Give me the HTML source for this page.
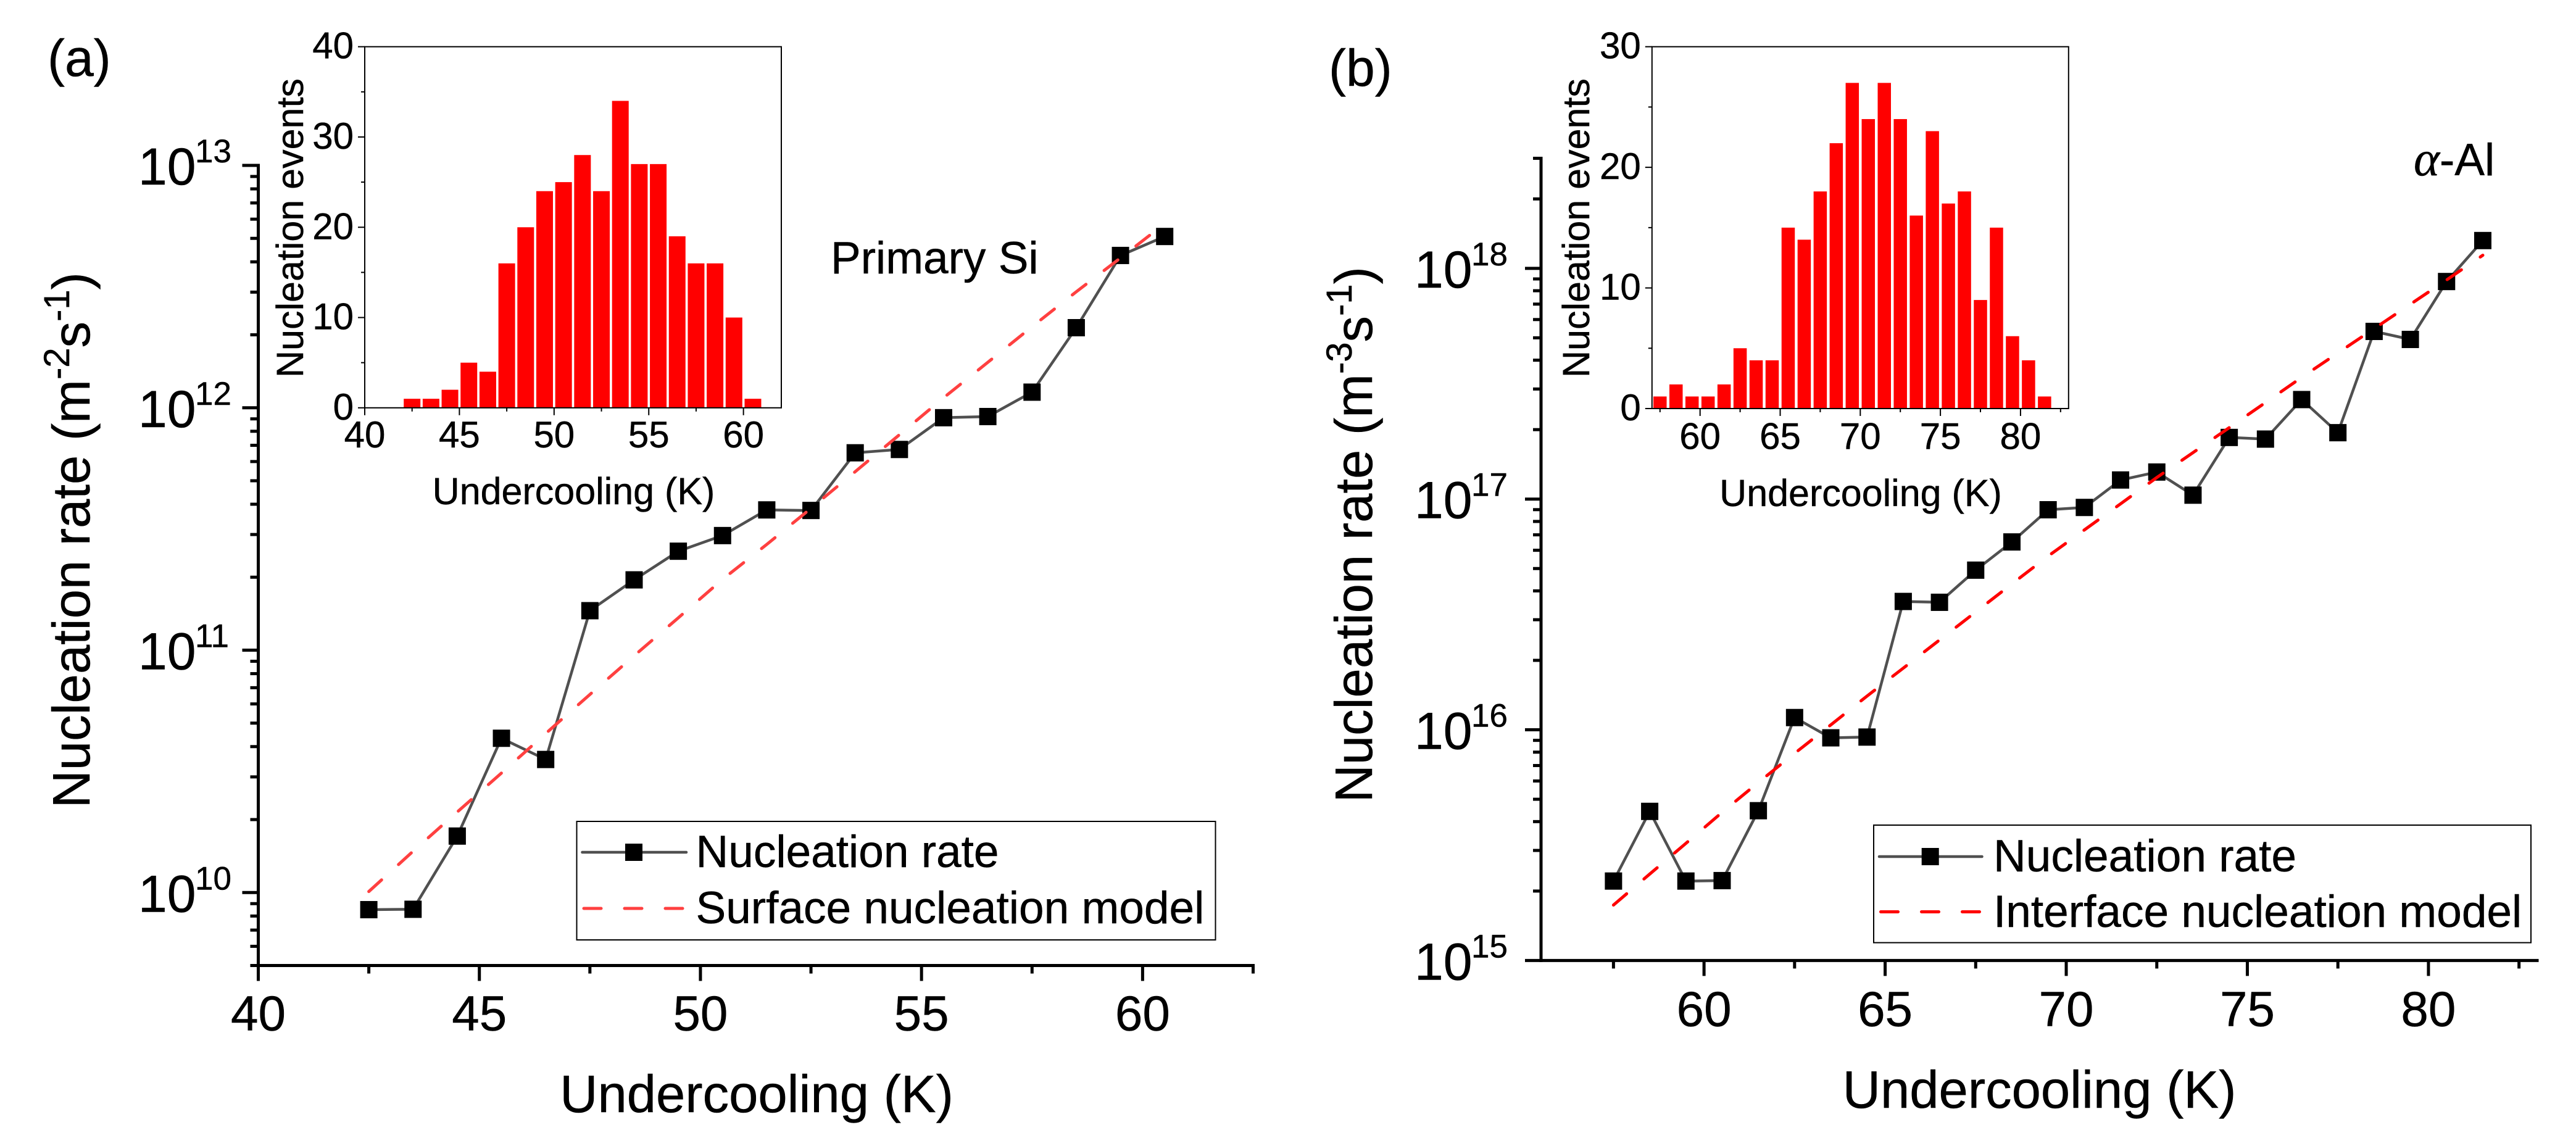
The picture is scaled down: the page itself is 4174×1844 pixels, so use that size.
<!DOCTYPE html>
<html lang="en">
<head>
<meta charset="utf-8">
<title>Nucleation rate versus undercooling</title>
<style>
html,body{margin:0;padding:0;background:#fff;}
svg{display:block;font-family:"Liberation Sans",sans-serif;fill:#000;}
text{white-space:pre;stroke:#000;stroke-width:0.5px;}
</style>
</head>
<body>
<svg id="figure" xmlns="http://www.w3.org/2000/svg" width="4174" height="1844" viewBox="0 0 4174 1844">
  <rect x="0" y="0" width="4174" height="1844" fill="#fff"/>

  <g id="panel-a">
    <text x="77" y="123" font-size="84">(a)</text>
    <text x="1226" y="1802" font-size="85" text-anchor="middle">Undercooling (K)</text>
    <text transform="translate(145,1309.5) rotate(-90)" font-size="85">Nucleation rate (m<tspan font-size="58" dy="-33">-2</tspan><tspan dy="33">s</tspan><tspan font-size="58" dy="-33">-1</tspan><tspan dy="33">)</tspan></text>
    <text x="1346" y="443" font-size="73">Primary Si</text>
    <text x="929.5" y="817" font-size="61" text-anchor="middle">Undercooling (K)</text>
    <text transform="translate(491,612) rotate(-90)" font-size="61">Nucleation events</text>
    <g id="legend-a">
      <rect x="934.5" y="1331" width="1035" height="192" fill="#fff" stroke="#000" stroke-width="2"/>
      <line x1="943.5" y1="1381" x2="1112" y2="1381" stroke="#505050" stroke-width="4.5" stroke-linecap="round"/>
      <rect x="1013" y="1367" width="28" height="28" fill="#000"/>
      <line x1="946" y1="1472" x2="1110" y2="1472" stroke="#ff4040" stroke-width="5" stroke-linecap="round" stroke-dasharray="28 38"/>
      <text x="1127.5" y="1405" font-size="73">Nucleation rate</text>
      <text x="1127.5" y="1496" font-size="73">Surface nucleation model</text>
    </g>
  </g>

  <g id="panel-b">
    <text x="2153" y="139" font-size="84">(b)</text>
    <text x="3304.5" y="1795" font-size="85" text-anchor="middle">Undercooling (K)</text>
    <text transform="translate(2222.8,1300.5) rotate(-90)" font-size="85">Nucleation rate (m<tspan font-size="58" dy="-33">-3</tspan><tspan dy="33">s</tspan><tspan font-size="58" dy="-33">-1</tspan><tspan dy="33">)</tspan></text>
    <text x="3911" y="284" font-size="73"><tspan font-family="'Liberation Serif',serif" font-style="italic" font-size="80">α</tspan>-Al</text>
    <text x="3015" y="820" font-size="61" text-anchor="middle">Undercooling (K)</text>
    <text transform="translate(2575,612) rotate(-90)" font-size="61">Nucleation events</text>
    <g id="legend-b">
      <rect x="3036" y="1337" width="1065" height="190.5" fill="#fff" stroke="#000" stroke-width="2"/>
      <line x1="3045" y1="1388" x2="3211.5" y2="1388" stroke="#505050" stroke-width="4.5" stroke-linecap="round"/>
      <rect x="3113.7" y="1374" width="28" height="28" fill="#000"/>
      <line x1="3047.5" y1="1477.5" x2="3210" y2="1477.5" stroke="#ff0000" stroke-width="5" stroke-linecap="round" stroke-dasharray="28 38"/>
      <text x="3230" y="1412" font-size="73">Nucleation rate</text>
      <text x="3230" y="1502" font-size="73">Interface nucleation model</text>
    </g>
  </g>
</svg>

<script>
// ---- Panel (a) data ----
const undercoolingA = [42.5,43.5,44.5,45.5,46.5,47.5,48.5,49.5,50.5,51.5,52.5,53.5,54.5,55.5,56.5,57.5,58.5,59.5,60.5];
const rateA = [8.5e9,8.53e9,1.71e10,4.33e10,3.54e10,1.455e11,1.95e11,2.56e11,2.97e11,3.79e11,3.77e11,6.52e11,6.73e11,9.1e11,9.2e11,1.16e12,2.14e12,4.25e12,5.09e12];
const modelA = [1.01e10,1.48e10,2.15e10,3.11e10,4.53e10,6.56e10,9.48e10,1.36e11,1.96e11,2.73e11,3.85e11,5.45e11,7.74e11,1.10e12,1.54e12,2.16e12,3.01e12,4.15e12,5.75e12];
const xMajorTicksA = [40,45,50,55,60];
const xMinorTicksA = [42.5,47.5,52.5,57.5,62.5];
const yExponentsA = [10,11,12,13];
const binCentersA = [42.5,43.5,44.5,45.5,46.5,47.5,48.5,49.5,50.5,51.5,52.5,53.5,54.5,55.5,56.5,57.5,58.5,59.5,60.5];
const eventsA = [1,1,2,5,4,16,20,24,25,28,24,34,27,27,19,16,16,10,1];
const insetXMajorA = [40,45,50,55,60];
const insetXMinorA = [42.5,47.5,52.5,57.5];
const insetYMajorA = [0,10,20,30,40];
const insetYMinorA = [5,15,25,35];

// ---- Panel (b) data ----
const undercoolingB = [57.5,58.5,59.5,60.5,61.5,62.5,63.5,64.5,65.5,66.5,67.5,68.5,69.5,70.5,71.5,72.5,73.5,74.5,75.5,76.5,77.5,78.5,79.5,80.5,81.5];
const rateB = [2.21e15,4.43e15,2.21e15,2.22e15,4.46e15,1.13e16,9.23e15,9.3e15,3.6e16,3.57e16,4.92e16,6.52e16,8.99e16,9.2e16,1.21e17,1.31e17,1.04e17,1.85e17,1.82e17,2.7e17,1.94e17,5.33e17,4.92e17,8.77e17,1.32e18];
const modelB = [1.74e15,2.37e15,3.22e15,4.39e15,5.91e15,7.9e15,1.05e16,1.4e16,1.85e16,2.45e16,3.24e16,4.29e16,5.66e16,7.35e16,9.54e16,1.24e17,1.59e17,2.04e17,2.62e17,3.37e17,4.3e17,5.48e17,6.99e17,8.91e17,1.14e18];
const xMajorTicksB = [60,65,70,75,80];
const xMinorTicksB = [57.5,62.5,67.5,72.5,77.5,82.5];
const yExponentsB = [15,16,17,18];
const binCentersB = [57.5,58.5,59.5,60.5,61.5,62.5,63.5,64.5,65.5,66.5,67.5,68.5,69.5,70.5,71.5,72.5,73.5,74.5,75.5,76.5,77.5,78.5,79.5,80.5,81.5];
const eventsB = [1,2,1,1,2,5,4,4,15,14,18,22,27,24,27,24,16,23,17,18,9,15,6,4,1];
const insetXMajorB = [60,65,70,75,80];
const insetXMinorB = [57.5,62.5,67.5,72.5,77.5,82.5];
const insetYMajorB = [0,10,20,30];
const insetYMinorB = [5,15,25];

const SVG_NS = 'http://www.w3.org/2000/svg';

function shape(parent, tag, props, content) {
  const node = document.createElementNS(SVG_NS, tag);
  Object.keys(props).forEach(function (k) { node.setAttribute(k, props[k]); });
  if (content !== undefined) node.textContent = content;
  parent.appendChild(node);
  return node;
}

function linearScale(d0, d1, r0, r1) {
  return function (v) { return r0 + (v - d0) * (r1 - r0) / (d1 - d0); };
}

function logScale(d0, d1, r0, r1) {
  const a = Math.log10(d0), b = Math.log10(d1);
  return function (v) { return r0 + (Math.log10(v) - a) * (r1 - r0) / (b - a); };
}

function drawMainPlot(host, o) {
  const x = linearScale(o.xDomain[0], o.xDomain[1], o.left, o.right);
  const y = logScale(o.yDomain[0], o.yDomain[1], o.bottom, o.top);

  const root = shape(host, 'g', {});
  
  

  const yAxis = shape(root, 'line', {x1: o.left, y1: o.top - 2.5, x2: o.left, y2: o.bottom + 2.5, stroke: '#000', 'stroke-width': 5});
  
  

  const xAxis = shape(root, 'line', {x1: o.left - 2.5, y1: o.bottom, x2: o.right + 2.5, y2: o.bottom, stroke: '#000', 'stroke-width': 5});
  
  

  o.xMajor.forEach(function (v) {
    const tick = shape(root, 'line', {x1: x(v), y1: o.bottom, x2: x(v), y2: o.bottom + 25, stroke: '#000', 'stroke-width': 5});
    
    
    const label = shape(root, 'text', {x: x(v), y: o.xLabelY, 'font-size': 80, 'text-anchor': 'middle'}, String(v));
    
    
  });

  o.xMinor.forEach(function (v) {
    const tick = shape(root, 'line', {x1: x(v), y1: o.bottom, x2: x(v), y2: o.bottom + 13, stroke: '#000', 'stroke-width': 5});
    
    
  });

  const lowDecade = Math.floor(Math.log10(o.yDomain[0]) + 1e-9);
  const highDecade = Math.ceil(Math.log10(o.yDomain[1]) - 1e-9);
  for (let d = lowDecade; d < highDecade; d++) {
    for (let m = 2; m <= 9; m++) {
      const val = m * Math.pow(10, d);
      if (val < o.yDomain[0] * 0.999 || val > o.yDomain[1] * 1.001) continue;
      const tick = shape(root, 'line', {x1: o.left - 13, y1: y(val), x2: o.left, y2: y(val), stroke: '#000', 'stroke-width': 5});
      
      
    }
  }

  o.exponents.forEach(function (e) {
    const py = y(Math.pow(10, e));
    const tick = shape(root, 'line', {x1: o.left - 26, y1: py, x2: o.left, y2: py, stroke: '#000', 'stroke-width': 5});
    
    
    const base = shape(root, 'text', {x: o.yLabelX, y: py + 31, 'font-size': 84}, '10');
    
    
    const power = shape(root, 'text', {x: o.yLabelX + 92, y: py - 5, 'font-size': 53}, String(e));
    
    
  });

  const ratePoints = o.xs.map(function (v, i) { return x(v).toFixed(1) + ',' + y(o.rate[i]).toFixed(1); }).join(' ');
  const rateLine = shape(root, 'polyline', {points: ratePoints, fill: 'none', stroke: '#505050', 'stroke-width': 4.5, 'stroke-linejoin': 'round'});
  
  

  o.xs.forEach(function (v, i) {
    const marker = shape(root, 'rect', {x: x(v) - 14, y: y(o.rate[i]) - 14, width: 28, height: 28, fill: '#000'});
    
    
  });

  const modelPoints = o.xs.map(function (v, i) { return x(v).toFixed(1) + ',' + y(o.model[i]).toFixed(1); }).join(' ');
  const modelLine = shape(root, 'polyline', {points: modelPoints, fill: 'none', stroke: o.modelColor, 'stroke-width': 5, 'stroke-linecap': 'round', 'stroke-dasharray': '28 37'});
  
  
}

function drawInset(host, o) {
  const x = linearScale(o.xDomain[0], o.xDomain[1], o.left, o.right);
  const y = linearScale(o.yDomain[0], o.yDomain[1], o.bottom, o.top);

  const root = shape(host, 'g', {});
  
  

  o.centers.forEach(function (c, i) {
    const bar = shape(root, 'rect', {x: x(c) - o.barWidth / 2, y: y(o.events[i]), width: o.barWidth, height: o.bottom - y(o.events[i]), fill: '#ff0000'});
    
    
  });

  const frame = shape(root, 'rect', {x: o.left, y: o.top, width: o.right - o.left, height: o.bottom - o.top, fill: 'none', stroke: '#000', 'stroke-width': 2});
  
  

  o.xMajor.forEach(function (v) {
    const tick = shape(root, 'line', {x1: x(v), y1: o.bottom, x2: x(v), y2: o.bottom + 12, stroke: '#000', 'stroke-width': 2});
    
    
    const label = shape(root, 'text', {x: x(v), y: o.xLabelY, 'font-size': 60, 'text-anchor': 'middle'}, String(v));
    
    
  });

  o.xMinor.forEach(function (v) {
    const tick = shape(root, 'line', {x1: x(v), y1: o.bottom, x2: x(v), y2: o.bottom + 6, stroke: '#000', 'stroke-width': 2});
    
    
  });

  o.yMajor.forEach(function (v) {
    const tick = shape(root, 'line', {x1: o.left - 11, y1: y(v), x2: o.left, y2: y(v), stroke: '#000', 'stroke-width': 2});
    
    
    const label = shape(root, 'text', {x: o.left - 18, y: y(v) + 19, 'font-size': 60, 'text-anchor': 'end'}, String(v));
    
    
  });

  o.yMinor.forEach(function (v) {
    const tick = shape(root, 'line', {x1: o.left - 6, y1: y(v), x2: o.left, y2: y(v), stroke: '#000', 'stroke-width': 2});
    
    
  });
}

const panelA = document.getElementById('panel-a');
const panelB = document.getElementById('panel-b');
const legendA = document.getElementById('legend-a');
const legendB = document.getElementById('legend-b');

drawInset(panelA, {
  left: 591, right: 1266, top: 75.7, bottom: 660.8,
  xDomain: [40, 62], yDomain: [0, 40], barWidth: 27, xLabelY: 725,
  centers: binCentersA, events: eventsA,
  xMajor: insetXMajorA, xMinor: insetXMinorA, yMajor: insetYMajorA, yMinor: insetYMinorA
});
drawMainPlot(panelA, {
  left: 418.5, right: 2030.5, top: 268, bottom: 1564.5,
  xDomain: [40, 62.5], yDomain: [5e9, 1e13], xLabelY: 1669.5, yLabelX: 224,
  xs: undercoolingA, rate: rateA, model: modelA, modelColor: '#ff4040',
  xMajor: xMajorTicksA, xMinor: xMinorTicksA, exponents: yExponentsA
});
panelA.appendChild(legendA);

drawInset(panelB, {
  left: 2676.8, right: 3351.8, top: 75.7, bottom: 662,
  xDomain: [57, 83], yDomain: [0, 30], barWidth: 21.5, xLabelY: 727.5,
  centers: binCentersB, events: eventsB,
  xMajor: insetXMajorB, xMinor: insetXMinorB, yMajor: insetYMajorB, yMinor: insetYMinorB
});
drawMainPlot(panelB, {
  left: 2497, right: 4111, top: 256.5, bottom: 1556.4,
  xDomain: [55.5, 83], yDomain: [1e15, 3e18], xLabelY: 1662.5, yLabelX: 2292,
  xs: undercoolingB, rate: rateB, model: modelB, modelColor: '#ff0000',
  xMajor: xMajorTicksB, xMinor: xMinorTicksB, exponents: yExponentsB
});
panelB.appendChild(legendB);
</script>
</body>
</html>
